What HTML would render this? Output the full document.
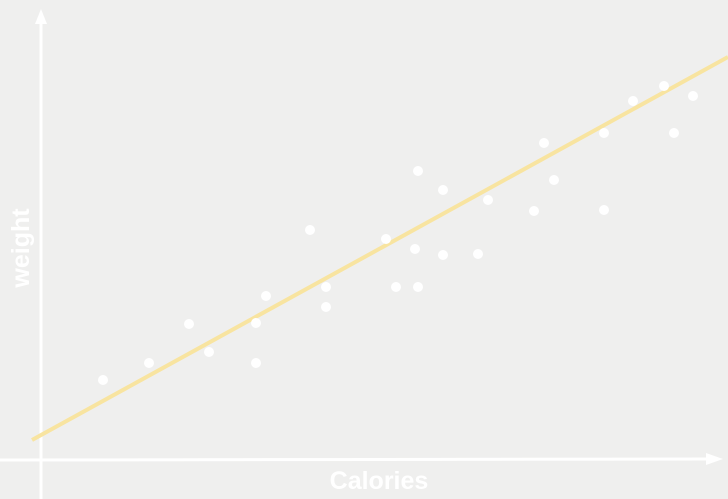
<!DOCTYPE html>
<html><head><meta charset="utf-8"><style>
html,body{margin:0;padding:0;background:#efefee;}
svg{display:block;}
text{font-family:"Liberation Sans",sans-serif;fill:#fff;font-weight:bold;}
</style></head><body>
<svg id="chart" width="728" height="499">
<rect width="728" height="499" fill="#efefee"/>
<g id="axes">
<line x1="41" y1="499" x2="41" y2="22" stroke="#fff" stroke-width="3"/>
<polygon points="41,9 35,24 47,24" fill="#fff"/>
<line x1="0" y1="460" x2="710" y2="459" stroke="#fff" stroke-width="3"/>
<polygon points="723,459 706,453 706,465" fill="#fff"/>
<text x="379" y="489" font-size="25" text-anchor="middle">Calories</text>
<text x="0" y="0" font-size="25" text-anchor="middle" transform="translate(29,248) rotate(-90)">weight</text>
</g>
<g id="marks"></g>
</svg>
<script>
const calories=[62,108,148,168,215,215,225,269,285,285,345,355,374,377,377,402,402,437,447,493,503,513,563,563,592,623,633,652];
const weights=[80,97,136,108,137,97,164,230,173,153,221,173,211,289,173,270,205,206,260,249,317,280,327,250,359,374,327,364];
const fitCoef=[24.95,0.5503];
const lineRange=[-9,687];
const xS=v=>41+v;
const yS=v=>460-v;
const svgNS="http://www.w3.org/2000/svg";
const g=document.getElementById('marks');
const ln=document.createElementNS(svgNS,'line');
ln.setAttribute('x1',xS(lineRange[0]));
ln.setAttribute('y1',yS(fitCoef[0]+fitCoef[1]*lineRange[0]));
ln.setAttribute('x2',xS(lineRange[1]));
ln.setAttribute('y2',yS(fitCoef[0]+fitCoef[1]*lineRange[1]));
ln.setAttribute('stroke','#f8e4a0');
ln.setAttribute('stroke-width','4');


g.appendChild(ln);
for(let i=0;i<calories.length;i++){
  const c=document.createElementNS(svgNS,'circle');
  c.setAttribute('cx',xS(calories[i]));
  c.setAttribute('cy',yS(weights[i]));
  c.setAttribute('r','5');
  c.setAttribute('fill','#fff');
  
  
  g.appendChild(c);
}
</script>
</body></html>
